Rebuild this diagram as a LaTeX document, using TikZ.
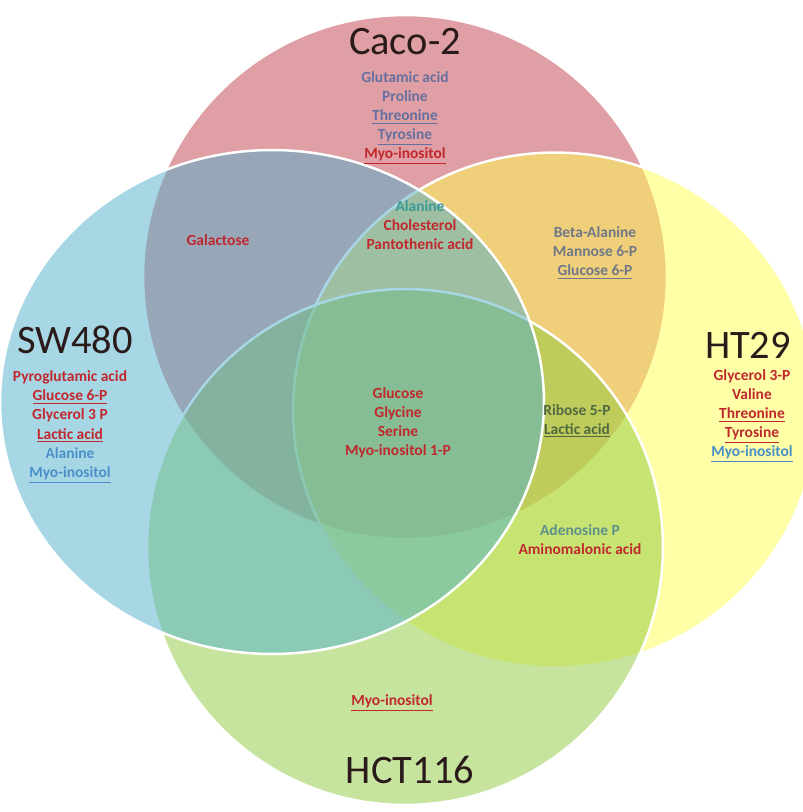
\documentclass[tikz,border=0pt]{standalone}
\usepackage{fontspec}
\setmainfont{Carlito}
\usetikzlibrary{positioning, shapes.geometric}
\definecolor{cacored}{HTML}{C0404A}
\definecolor{swblue}{HTML}{50B0CC}
\definecolor{htyellow}{HTML}{FFFF50}
\definecolor{hctgreen}{HTML}{90CA40}
\definecolor{tred}{HTML}{C0282D}
\definecolor{tslate}{HTML}{6670A0}
\definecolor{tgray}{HTML}{707888}
\definecolor{tteal}{HTML}{3A9A9A}
\definecolor{tblue}{HTML}{4A8FC8}
\definecolor{tolive}{HTML}{506A40}
\definecolor{tadeno}{HTML}{5F8F8A}
\definecolor{tlabel}{HTML}{2A1A1A}
\newcommand{\metab}{\bfseries\fontsize{8.8}{10.9}\selectfont}
\newcommand{\ul}[1]{\underline{#1}}

\begin{document}
\begin{tikzpicture}[x=0.02cm, y=-0.02cm,
    setc/.style={ellipse, draw=white, line width=1.4pt, fill opacity=0.5,
                 inner sep=0pt},
    cell/.style={font=\metab, align=center, inner sep=0pt},
    cname/.style={font=\fontsize{23}{26}\selectfont, text=tlabel, inner sep=0pt}]
    \useasboundingbox (0,0) rectangle (802,812);
    % the four sets
    \node[setc, fill=cacored, minimum width=10.48cm, minimum height=10.48cm]
        (caco) at (405,277) {};
    \node[setc, fill=htyellow, minimum width=10.48cm, minimum height=10.3cm]
        (ht) at (555,410) {};
    \node[setc, fill=hctgreen, minimum width=10.32cm, minimum height=10.32cm]
        (hct) at (405,547) {};
    \node[setc, fill=swblue, minimum width=10.88cm, minimum height=10.08cm]
        (sw) at (272,402) {};
    % set names
    \node[cname] (caconame) at (405,42)  {Caco-2};
    \node[cname] (swname)   at (75,340)  {SW480};
    \node[cname] (htname)   at (748,345) {HT29};
    \node[cname] (hctname)  at (410,770) {HCT116};
    % metabolites
    \node[cell] (cacoonly) at (405,118) {\textcolor{tslate}{Glutamic acid}\\
        \textcolor{tslate}{Proline}\\ \textcolor{tslate}{\ul{Threonine}}\\
        \textcolor{tslate}{\ul{Tyrosine}}\\ \textcolor{tred}{\ul{Myo-inositol}}};
    \node[cell, text=tred] (cacosw) at (218,240) {Galactose};
    \node[cell] (cacoswht) at (420,225) {\textcolor{tteal}{Alanine}\\
        \textcolor{tred}{Cholesterol}\\ \textcolor{tred}{Pantothenic acid}};
    \node[cell, text=tgray] (cacoht) at (595,253) {Beta-Alanine\\ Mannose 6-P\\
        \ul{Glucose 6-P}};
    \node[cell] (swonly) at (70,427) {\textcolor{tred}{Pyroglutamic acid}\\
        \textcolor{tred}{\ul{Glucose 6-P}}\\ \textcolor{tred}{Glycerol 3 P}\\
        \textcolor{tred}{\ul{Lactic acid}}\\ \textcolor{tblue}{Alanine}\\
        \textcolor{tblue}{\ul{Myo-inositol}}};
    \node[cell] (htonly) at (752,416) {\textcolor{tred}{Glycerol 3-P}\\
        \textcolor{tred}{Valine}\\ \textcolor{tred}{\ul{Threonine}}\\
        \textcolor{tred}{\ul{Tyrosine}}\\ \textcolor{tblue}{\ul{Myo-inositol}}};
    \node[cell, text=tred] (all) at (398,423) {Glucose\\ Glycine\\ Serine\\
        Myo-inositol 1-P};
    \node[cell, text=tolive] (cacohthct) at (577,421) {Ribose 5-P\\ \ul{Lactic acid}};
    \node[cell] (hthct) at (580,540) {\textcolor{tadeno}{Adenosine P}\\
        \textcolor{tred}{Aminomalonic acid}};
    \node[cell, text=tred] (hctonly) at (392,703) {\ul{Myo-inositol}};
\end{tikzpicture}
\end{document}
